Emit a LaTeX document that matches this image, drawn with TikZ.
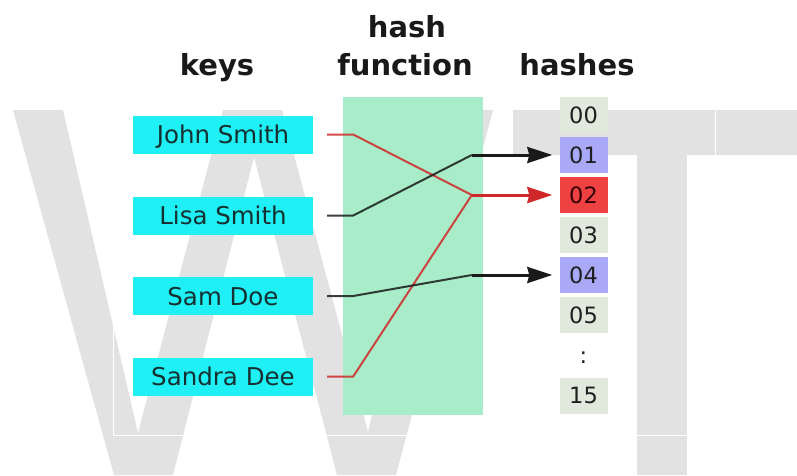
\documentclass[tikz,border=0pt]{standalone}
\usepackage{fontspec}
\setmainfont{DejaVu Sans}
\usetikzlibrary{arrows.meta}

\definecolor{markgray}{HTML}{E2E2E2}
\definecolor{keycyan}{HTML}{1EF0F5}
\definecolor{keytext}{HTML}{143030}
\definecolor{fngreen}{HTML}{A9ECCA}
\definecolor{cellplain}{HTML}{E0E9DC}
\definecolor{cellblue}{HTML}{A9A9F7}
\definecolor{cellred}{HTML}{EE4242}
\definecolor{wirered}{HTML}{D02828}
\definecolor{wiredark}{HTML}{1A1A1A}

\begin{document}
\begin{tikzpicture}[x=1pt,y=-1pt,
  header/.style={font=\bfseries\fontsize{29}{34}\selectfont, anchor=base, text=black!90},
  keybox/.style={fill=keycyan, minimum width=180pt, minimum height=38pt, inner sep=0pt,
    text height=18pt, text depth=0pt, text=keytext, font=\fontsize{24.5}{28}\selectfont},
  cell/.style={minimum width=48pt, minimum height=36pt, inner sep=0pt,
    text height=16.4pt, text depth=0pt, text=black!88, font=\fontsize{22.5}{26}\selectfont},
  redwire/.style={draw=wirered, draw opacity=0.85, line width=2pt},
  darkwire/.style={draw=wiredark, draw opacity=0.85, line width=2pt},
  tip/.style={-{Stealth[length=25pt,width=16pt,inset=2pt]}},
  redarrow/.style={draw=wirered, line width=3pt, shorten >=7pt, tip},
  darkarrow/.style={draw=wiredark, line width=3pt, shorten >=7pt, tip}]

\useasboundingbox (0,0) rectangle (797,475);
\fill[white] (0,0) rectangle (797,475);

% large background lettering
\fill[markgray] (13,110) -- (63,110) -- (138,433) -- (223,110) -- (282,110)
  -- (368,432) -- (443,110) -- (493,110) -- (396,475) -- (337,475)
  -- (254,157) -- (173,475) -- (114,475) -- cycle;
\fill[markgray] (513,110) rectangle (797,155);
\fill[markgray] (637,155) rectangle (687,475);
% edge of the pasted diagram area
\draw[white, line width=0.8pt] (113,100) -- (113,435) -- (715,435) -- (715,100);

% column titles
\node[header] (tkeys) at (217,75) {keys};
\node[header] (thash) at (407,37) {hash};
\node[header] (tfunc) at (405,75) {function};
\node[header] (thashes) at (577,75) {hashes};

% hash function band
\node[fill=fngreen, minimum width=140pt, minimum height=318pt, inner sep=0pt] (fn) at (413,256) {};

% keys
\node[keybox] (john) at (223,134.5) {John Smith};
\node[keybox] (lisa) at (223,215.5) {Lisa Smith};
\node[keybox] (sam) at (223,296) {Sam Doe};
\node[keybox] (sandra) at (223,376.5) {Sandra Dee};

% hash slots
\node[cell, fill=cellplain] (c00) at (583.5,115) {00};
\node[cell, fill=cellblue] (c01) at (583.5,155) {01};
\node[cell, fill=cellred, text=black!80!red] (c02) at (583.5,195) {02};
\node[cell, fill=cellplain] (c03) at (583.5,235) {03};
\node[cell, fill=cellblue] (c04) at (583.5,275) {04};
\node[cell, fill=cellplain] (c05) at (583.5,315) {05};
\node[cell] (cdots) at (583.5,355) {:};
\node[cell, fill=cellplain] (c15) at (583.5,395.5) {15};

% bend points of the wires
\coordinate (jb) at ([xshift=40pt]john.east);
\coordinate (lb) at ([xshift=40pt]lisa.east);
\coordinate (sb) at ([xshift=40pt]sam.east);
\coordinate (db) at ([xshift=40pt]sandra.east);
\coordinate (merge) at ([xshift=-87.5pt]c02.west);
\coordinate (lt) at ([xshift=-87.5pt]c01.west);
\coordinate (st) at ([xshift=-87.5pt]c04.west);

% wires
\draw[redwire, shorten <=14pt] (john.east) -- (jb) -- (merge);
\draw[redwire, shorten <=14pt] (sandra.east) -- (db) -- (merge);
\draw[darkwire, shorten <=14pt] (lisa.east) -- (lb) -- (lt);
\draw[darkwire, shorten <=14pt] (sam.east) -- (sb) -- (st);
\draw[redarrow] (merge) -- (c02.west);
\draw[darkarrow] (lt) -- (c01.west);
\draw[darkarrow] (st) -- (c04.west);
\end{tikzpicture}
\end{document}
